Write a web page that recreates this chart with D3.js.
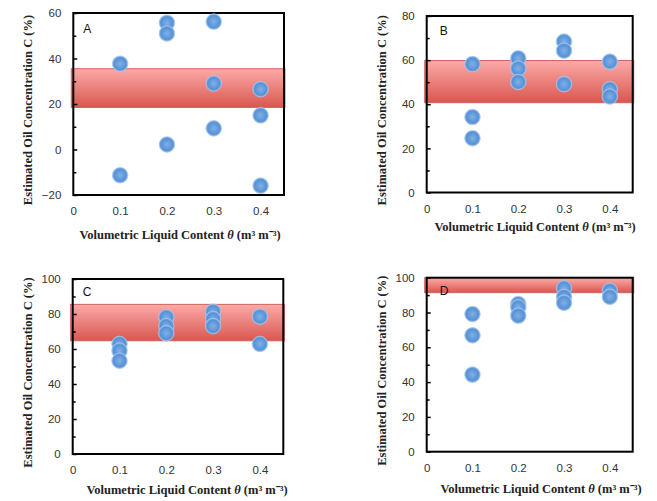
<!DOCTYPE html>
<html>
<head>
<meta charset="utf-8">
<script src="https://cdn.jsdelivr.net/npm/d3@7"></script>
<style>
  body { margin: 0; background: #fff; }
  .tick text { font-family: "Liberation Sans", Arial, sans-serif; font-size: 11.5px; fill: #333; }
  .ytitle, .xtitle { font-family: "Liberation Serif", "Times New Roman", serif; font-weight: bold; font-size: 12.5px; fill: #222; }
  .plabel { font-family: "Liberation Sans", Arial, sans-serif; font-size: 12px; fill: #111; }
</style>
</head>
<body>
<svg id="chart" width="657" height="501"></svg>
<script>
// ==================== 数据 ====================
const xTicks = [0, 0.1, 0.2, 0.3, 0.4];
const panelNames = ["A", "B", "C", "D"];

// A
const thetaA = [0.1, 0.1, 0.2, 0.2, 0.2, 0.3, 0.3, 0.3, 0.4, 0.4, 0.4];
const concA  = [37.7, -11.3, 55.7, 51, 2.2, 56.2, 29, 9.3, 26.5, 15, -15.9];
const bandA  = [18.5, 35.5];
const yTicksA = [-20, 0, 20, 40, 60];

// B
const thetaB = [0.1, 0.1, 0.1, 0.2, 0.2, 0.2, 0.3, 0.3, 0.3, 0.4, 0.4, 0.4];
const concB  = [58.2, 34.2, 24.6, 60.8, 56.2, 50.1, 68.4, 64.3, 49.1, 59.3, 46.8, 43.5];
const bandB  = [40.7, 59.8];
const yTicksB = [0, 20, 40, 60, 80];

// C
const thetaC = [0.1, 0.1, 0.1, 0.2, 0.2, 0.2, 0.3, 0.3, 0.3, 0.4, 0.4];
const concC  = [62.9, 59, 53.3, 78.1, 73.1, 69, 81.3, 77.1, 73.1, 78.5, 62.9];
const bandC  = [64.7, 85.5];
const yTicksC = [0, 20, 40, 60, 80, 100];

// D
const thetaD = [0.1, 0.1, 0.1, 0.2, 0.2, 0.2, 0.3, 0.3, 0.3, 0.4, 0.4];
const concD  = [79.1, 66.9, 44.3, 84.9, 83, 78.2, 93.9, 89, 85.6, 92.5, 89];
const bandD  = [91.4, 100];
const yTicksD = [0, 20, 40, 60, 80, 100];

// ==================== 布局 ====================
const panels = [
    {name: panelNames[0], theta: thetaA, conc: concA, band: bandA, yTicks: yTicksA,
     box: {l: 73.3, r: 284, t: 13, b: 195}, ytX: 28, xtX: 180, xtY: 239, lblX: 10, lblY: 20},
    {name: panelNames[1], theta: thetaB, conc: concB, band: bandB, yTicks: yTicksB,
     box: {l: 426.7, r: 632.7, t: 16, b: 192.5}, ytX: 382, xtX: 535, xtY: 231, lblX: 13, lblY: 19},
    {name: panelNames[2], theta: thetaC, conc: concC, band: bandC, yTicks: yTicksC,
     box: {l: 72.7, r: 283.3, t: 279, b: 454}, ytX: 28, xtX: 187, xtY: 494, lblX: 10, lblY: 17},
    {name: panelNames[3], theta: thetaD, conc: concD, band: bandD, yTicks: yTicksD,
     box: {l: 426.7, r: 632.7, t: 277.7, b: 451.7}, ytX: 382, xtX: 541, xtY: 493, lblX: 13, lblY: 17}
];

const svg = d3.select("#chart");
const defs = svg.append("defs");

// 红色带渐变
const bandGrad = defs.append("linearGradient")
    .attr("id", "bandGrad").attr("x1", 0).attr("y1", 0).attr("x2", 0).attr("y2", 1);
bandGrad.append("stop").attr("offset", "0%").attr("stop-color", "#fcaaa8");
bandGrad.append("stop").attr("offset", "100%").attr("stop-color", "#d9574f");

// 圆点渐变
const dotGrad = defs.append("radialGradient")
    .attr("id", "dotGrad").attr("cx", "50%").attr("cy", "50%").attr("r", "55%");
dotGrad.append("stop").attr("offset", "0%").attr("stop-color", "#7fb0e6");
dotGrad.append("stop").attr("offset", "70%").attr("stop-color", "#5792d6");
dotGrad.append("stop").attr("offset", "100%").attr("stop-color", "#9fc3ec");

panels.forEach(p => drawPanel(p));

function drawPanel(p) {
    const {l, r, t, b} = p.box;
    const yMin = d3.min(p.yTicks), yMax = d3.max(p.yTicks);

    const x = d3.scaleLinear().domain([0, 0.45]).range([l, r]);
    const y = d3.scaleLinear().domain([yMin, yMax]).range([b, t]);

    const g = svg.append("g");

    // 红色带（稍微超出边框）
    g.append("rect")
        .attr("x", l - 2)
        .attr("width", r - l + 3)
        .attr("y", y(p.band[1]))
        .attr("height", y(p.band[0]) - y(p.band[1]))
        .attr("fill", "url(#bandGrad)")
        .attr("stroke", "#d2625c")
        .attr("stroke-width", 1);

    // 边框
    g.append("rect")
        .attr("x", l).attr("y", t)
        .attr("width", r - l).attr("height", b - t)
        .attr("fill", "none")
        .attr("stroke", "#000")
        .attr("stroke-width", 2);

    // y轴主刻度（向内）
    const yAxis = d3.axisLeft(y)
        .tickValues(p.yTicks)
        .tickSizeInner(-4)
        .tickSizeOuter(0)
        .tickPadding(12)
        .tickFormat(d3.format("d"));
    const ya = g.append("g").attr("transform", `translate(${l},0)`).call(yAxis);
    ya.select(".domain").remove();
    ya.selectAll(".tick line").attr("stroke", "#000").attr("stroke-width", 1.5);

    // y轴次刻度
    const minor = p.yTicks.slice(1).map((v, i) => (v + p.yTicks[i]) / 2);
    const ym = g.append("g").attr("transform", `translate(${l},0)`)
        .call(d3.axisLeft(y).tickValues(minor).tickSizeInner(-3).tickSizeOuter(0).tickFormat(""));
    ym.select(".domain").remove();
    ym.selectAll(".tick line").attr("stroke", "#000").attr("stroke-width", 1.5);

    // x轴标签
    const xa = g.append("g").attr("transform", `translate(0,${b})`)
        .call(d3.axisBottom(x).tickValues(xTicks).tickSize(0).tickPadding(12)
            .tickFormat(d => d === 0 ? "0" : d3.format(".1f")(d)));
    xa.select(".domain").remove();

    // 数据点
    g.selectAll("circle.dot")
        .data(d3.zip(p.theta, p.conc))
        .join("circle")
        .attr("class", "dot")
        .attr("cx", d => x(d[0]))
        .attr("cy", d => y(d[1]))
        .attr("r", 7.8)
        .attr("fill", "url(#dotGrad)")
        .attr("stroke", "#a5c6ec")
        .attr("stroke-width", 0.8);

    // 面板字母
    g.append("text")
        .attr("class", "plabel")
        .attr("x", l + p.lblX)
        .attr("y", t + p.lblY)
        .text(p.name);

    // y轴标题
    g.append("text")
        .attr("class", "ytitle")
        .attr("transform", `translate(${p.ytX},${(t + b) / 2 + 6}) rotate(-90)`)
        .attr("text-anchor", "middle")
        .attr("dy", "0.35em")
        .text("Estimated Oil Concentration C (%)");

    // x轴标题
    const xt = g.append("text")
        .attr("class", "xtitle")
        .attr("x", p.xtX)
        .attr("y", p.xtY)
        .attr("text-anchor", "middle");
    xt.append("tspan").text("Volumetric Liquid Content ");
    xt.append("tspan").attr("font-style", "italic").text("θ");
    xt.append("tspan").text(" (m³ m⁻³)");
}
</script>
</body>
</html>
